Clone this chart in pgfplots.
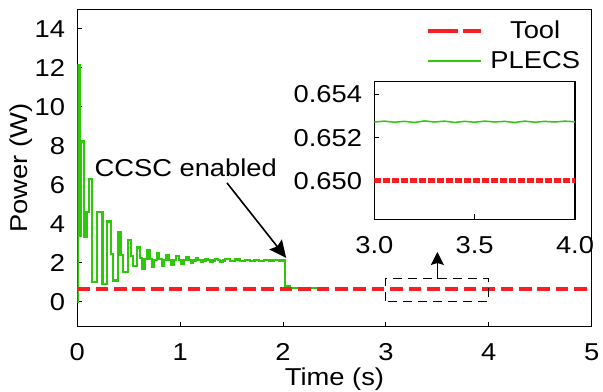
\documentclass[border=0pt]{standalone}
\usepackage{pgfplots}
\pgfplotsset{compat=1.18}
\usepackage{fontspec}
\setmainfont{Liberation Sans}[FakeStretch=1.12]
\usetikzlibrary{arrows.meta}
\definecolor{toolred}{RGB}{250,30,35}
\definecolor{plecsgreen}{RGB}{45,200,10}
\pgfplotsset{
  commonstyle/.style={
    scale only axis,
    tick align=inside, tick pos=left,
    major tick length=5bp,
    axis line style={line width=1.2bp},
    every tick/.style={black, line width=1bp},
    /pgf/number format/assume math mode=true,
    scaled ticks=false,
    tick label style={inner sep=0pt},
    xticklabel style={anchor=base, yshift=-34bp},
    yticklabel style={anchor=east, xshift=-12bp},
  }
}
\begin{document}
\begin{tikzpicture}[font=\fontsize{24.5}{29}\selectfont]
\begin{axis}[
  commonstyle,
  width=514.4bp, height=317.4bp,
  xmin=0, xmax=5, ymin=-1.27, ymax=15,
  xtick={0,1,2,3,4,5}, ytick={0,2,4,6,8,10,12,14},
  xlabel={Time (s)}, ylabel={Power (W)},
  xlabel style={at={(axis description cs:0.5,-0.1837)}, anchor=base, inner sep=0pt},
  ylabel style={at={(axis description cs:-0.0972,0.5)}, anchor=base, inner sep=0pt},
  reverse legend,
  legend cell align=center,
  legend image code/.code={\draw[#1] (0bp,0bp) -- (53bp,0bp);},
  legend style={draw=none, fill=none, at={(rel axis cs:1,1)}, anchor=north east,
    xshift=-11.5bp, yshift=-6.4bp, inner sep=0pt, row sep=0pt, column sep=7bp,
    nodes={inner sep=0pt, text height=23bp, text depth=7bp}},
]
\addplot[plecsgreen, line width=2.2bp, const plot] table {
x y
0.000 0.00
0.010 12.15
0.025 3.40
0.036 8.22
0.065 3.35
0.090 4.63
0.114 6.29
0.142 1.04
0.190 4.63
0.245 0.90
0.290 4.12
0.325 2.45
0.350 1.10
0.395 3.60
0.420 2.40
0.445 1.55
0.490 3.18
0.520 2.35
0.545 1.85
0.582 2.79
0.606 2.25
0.630 1.70
0.653 2.20
0.677 2.65
0.701 2.22
0.725 1.80
0.748 2.15
0.772 2.52
0.796 2.18
0.820 1.86
0.843 2.14
0.867 2.42
0.891 2.16
0.915 1.92
0.938 2.13
0.962 2.35
0.986 2.15
1.010 1.96
1.033 2.13
1.057 2.29
1.081 2.14
1.105 2.00
1.128 2.12
1.152 2.25
1.176 2.14
1.200 2.03
1.223 2.12
1.247 2.22
1.271 2.13
1.295 2.05
1.318 2.12
1.342 2.20
1.366 2.13
1.390 2.07
1.413 2.12
1.437 2.18
1.485 2.09
1.532 2.17
1.580 2.10
1.627 2.16
1.675 2.11
1.722 2.15
1.770 2.11
1.817 2.15
1.865 2.12
1.912 2.14
1.960 2.12
2.016 0.80
2.070 0.70
2.330 0.70
};
\addlegendentry{PLECS}
\addplot[toolred, line width=4bp, dash pattern=on 12.7bp off 5.7bp,
  legend image post style={dash pattern=on 30bp off 5bp}] coordinates {(0,0.65) (5,0.65)};
\addlegendentry{Tool}
\node[anchor=center, inner sep=0pt] at (axis cs:1.054,6.9) {CCSC enabled};
\draw[black, line width=1.6bp, -{Stealth[length=17bp,width=16bp,inset=2.5bp]}] (axis cs:1.455,6.1) -- (axis cs:2.03,2.26);
\draw[black, line width=1bp, dash pattern=on 9bp off 6bp] (axis cs:3,0.03) rectangle (axis cs:4,1.2);
\draw[black, line width=1.6bp, -{Stealth[length=13bp,width=13bp,inset=2bp]}] (axis cs:3.5,1.2) -- (axis cs:3.5,2.56);
\end{axis}
\begin{axis}[
  commonstyle,
  at={(297bp,107.4bp)}, anchor=south west,
  width=200.7bp, height=137.6bp,
  xmin=3, xmax=4, ymin=0.64823, ymax=0.65458,
  xtick={3,3.5,4}, ytick={0.650,0.652,0.654},
  xticklabel style={/pgf/number format/.cd, fixed, fixed zerofill, precision=1},
  yticklabel style={/pgf/number format/.cd, fixed, fixed zerofill, precision=3},
  axis background/.style={fill=white},
]
\addplot[plecsgreen, line width=1.5bp] table {
x y
3.00 0.65272
3.05 0.65276
3.10 0.65271
3.15 0.65275
3.20 0.65270
3.25 0.65277
3.30 0.65272
3.35 0.65276
3.40 0.65270
3.45 0.65275
3.50 0.65271
3.55 0.65276
3.60 0.65272
3.65 0.65275
3.70 0.65270
3.75 0.65276
3.80 0.65271
3.85 0.65275
3.90 0.65272
3.95 0.65276
4.00 0.65273
};
\addplot[toolred, line width=5bp, dash pattern=on 6.7bp off 2.3bp] coordinates {(3,0.650) (4,0.650)};
\end{axis}
\pgfresetboundingbox
\useasboundingbox (-77.3bp,-65.3bp) rectangle (525.7bp,326.7bp);
\end{tikzpicture}
\end{document}
